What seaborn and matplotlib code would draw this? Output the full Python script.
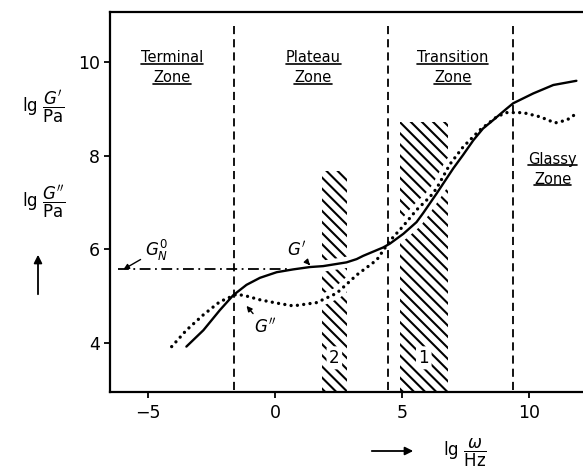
import numpy as np
import pandas as pd
import matplotlib
matplotlib.use("Agg")
import matplotlib.pyplot as plt
import seaborn as sns
from matplotlib.lines import Line2D

# ---------------- data ----------------
gp_x = [-3.49, -2.82, -2.17, -1.64, -1.12, -0.59, 0.07, 0.72, 1.38, 1.90,
        2.82, 3.22, 3.48, 4.27, 4.53, 5.06, 5.58, 5.85, 6.37, 7.03,
        7.42, 7.82, 8.20, 8.60, 9.12, 9.39, 10.18, 10.97, 11.88]
gp_y = [3.92, 4.27, 4.70, 5.02, 5.24, 5.39, 5.51, 5.57, 5.62, 5.64,
        5.72, 5.79, 5.86, 6.04, 6.12, 6.33, 6.58, 6.78, 7.19, 7.73,
        8.02, 8.33, 8.58, 8.76, 9.00, 9.12, 9.33, 9.51, 9.60]

gpp_x = [-4.07, -3.49, -2.82, -2.17, -1.51, -1.12, -0.59, 0.07, 0.72, 1.25,
         1.64, 2.43, 2.82, 3.22, 4.01, 4.53, 5.06, 5.58, 6.11, 6.37,
         6.90, 7.42, 8.08, 8.74, 9.12, 9.78, 10.45, 11.04, 11.50, 11.88]
gpp_y = [3.92, 4.27, 4.60, 4.88, 5.04, 5.00, 4.92, 4.85, 4.79, 4.83,
         4.86, 5.06, 5.25, 5.45, 5.77, 6.18, 6.50, 6.84, 7.12, 7.30,
         7.82, 8.19, 8.55, 8.83, 8.92, 8.92, 8.83, 8.70, 8.76, 8.90]

plateau_modulus = 5.57
plateau_line_x = [-6.18, 0.5]

zone_bounds = [-1.6, 4.45, 9.4]
zone_names = ["Terminal", "Plateau", "Transition", "Glassy"]
zone_label_x = [-4.06, 1.5, 7.0, 10.95]
zone_label_y = [10.09, 10.09, 10.09, 7.92]

band_labels = ["1", "2"]
band_left = [4.92, 1.85]
band_right = [6.81, 2.83]
band_top = [8.72, 7.67]

x_ticks = [-5, 0, 5, 10]
y_ticks = [4, 6, 8, 10]
xlim = (-6.5, 12.14)
ylim = (2.95, 11.07)

# ---------------- style ----------------
sns.set_theme(style="white")
plt.rcParams["font.family"] = ["DejaVu Sans"]
plt.rcParams["mathtext.fontset"] = "dejavusans"
plt.rcParams["hatch.linewidth"] = 1.5
plt.rcParams["text.color"] = "black"

W, H = 583, 470
fig = plt.figure(figsize=(W / 100, H / 100), dpi=100)
ax = fig.add_axes([110 / W, (H - 392) / H, (W - 110) / W, (392 - 12) / H])
ax.set_xlim(*xlim)
ax.set_ylim(*ylim)

for side in ["left", "bottom", "top"]:
    ax.spines[side].set_linewidth(1.6)
    ax.spines[side].set_color("black")
ax.spines["right"].set_visible(False)

ax.set_xticks(x_ticks)
ax.set_yticks(y_ticks)
ax.set_xticklabels([str(v).replace("-", "\u2212") for v in x_ticks])
ax.set_yticklabels([str(v) for v in y_ticks])
ax.tick_params(axis="both", direction="out", length=4, width=1.3,
               labelsize=12.5, colors="black", pad=3)
ax.tick_params(axis="x", bottom=True, pad=5)
ax.tick_params(axis="y", left=True)
ax.grid(False)

# hatched bands
ax.bar(x=[(l + r) / 2 for l, r in zip(band_left, band_right)],
       height=[t - ylim[0] for t in band_top],
       width=[r - l for l, r in zip(band_left, band_right)],
       bottom=ylim[0], color="none", edgecolor="black", linewidth=0,
       hatch="\\\\\\", zorder=1)

# white halo around curves (gaps in the hatching)
ax.plot(gp_x, gp_y, color="white", lw=8, zorder=2, solid_capstyle="round")
ax.plot(gpp_x, gpp_y, color="white", lw=8, zorder=2, solid_capstyle="round")

# zone boundaries
for xb in zone_bounds:
    ax.axvline(xb, ymin=0.005, ymax=0.975, color="black", lw=1.3,
               linestyle=(0, (4.5, 2.8)), zorder=3)

# plateau modulus line
ax.plot(plateau_line_x, [plateau_modulus] * 2, color="black", lw=1.3,
        linestyle=(0, (6, 2.5, 1, 2.5)), zorder=3)

# curves
df_gp = pd.DataFrame({"lgw": gp_x, "lgG": gp_y})
df_gpp = pd.DataFrame({"lgw": gpp_x, "lgG": gpp_y})
sns.lineplot(data=df_gp, x="lgw", y="lgG", color="black", lw=1.7, ax=ax,
             zorder=4)
sns.lineplot(data=df_gpp, x="lgw", y="lgG", color="black", lw=2.4,
             linestyle=(0, (0.01, 1.9)), dash_capstyle="round", ax=ax,
             zorder=4)
ax.set_xlabel("")
ax.set_ylabel("")

# band numbers
for lab, l, r in zip(band_labels, band_left, band_right):
    ax.text((l + r) / 2, 3.68, lab, ha="center", va="center", fontsize=12,
            zorder=5, bbox=dict(boxstyle="round,pad=0.15", fc="white",
                                ec="none"))

# curve labels
arrow_kw = dict(arrowstyle="-|>", color="black", lw=1.0, mutation_scale=8,
                shrinkA=1, shrinkB=0)
ax.annotate(r"$G'$", xy=(1.38, 5.66), xytext=(0.85, 5.98), fontsize=12,
            ha="center", va="center", arrowprops=arrow_kw, zorder=6)
ax.annotate(r"$G''$", xy=(-1.12, 4.79), xytext=(-0.40, 4.33), fontsize=12,
            ha="center", va="center", arrowprops=arrow_kw, zorder=6)
ax.annotate(r"$G_N^0$", xy=(-5.97, 5.57), xytext=(-4.66, 5.98), fontsize=12,
            ha="center", va="center", arrowprops=arrow_kw, zorder=6)

# zone labels with underlines
zone_texts = []
for name, zx, zy in zip(zone_names, zone_label_x, zone_label_y):
    t1 = ax.text(zx, zy, name, ha="center", va="center", fontsize=10.5,
                 zorder=6)
    t2 = ax.text(zx, zy - 0.42, "Zone", ha="center", va="center",
                 fontsize=10.5, zorder=6)
    zone_texts += [t1, t2]

# axis labels
fig.text(43.5 / W, 1 - 107 / H, r"$\mathrm{lg}\ \dfrac{G'}{\mathrm{Pa}}$",
         ha="center", va="center", fontsize=12)
fig.text(43.5 / W, 1 - 202 / H, r"$\mathrm{lg}\ \dfrac{G''}{\mathrm{Pa}}$",
         ha="center", va="center", fontsize=12)
fig.text(465 / W, 1 - 453 / H, r"$\mathrm{lg}\ \dfrac{\omega}{\mathrm{Hz}}$",
         ha="center", va="center", fontsize=12)
fig.add_artist(matplotlib.patches.FancyArrowPatch(
    (38 / W, 1 - 297 / H), (38 / W, 1 - 252 / H), transform=fig.transFigure,
    arrowstyle="-|>", mutation_scale=12, color="black", lw=1.3))
fig.add_artist(matplotlib.patches.FancyArrowPatch(
    (369 / W, 1 - 451 / H), (416 / W, 1 - 451 / H), transform=fig.transFigure,
    arrowstyle="-|>", mutation_scale=12, color="black", lw=1.3))

fig.canvas.draw()
renderer = fig.canvas.get_renderer()
inv = fig.transFigure.inverted()
for t in zone_texts:
    bb = t.get_window_extent(renderer)
    (x0, y0), (x1, _) = inv.transform([[bb.x0, bb.y0 + 1.5], [bb.x1, bb.y0]])
    fig.add_artist(Line2D([x0, x1], [y0, y0], color="black", lw=1.2))

fig.savefig("out.png", dpi=100)
